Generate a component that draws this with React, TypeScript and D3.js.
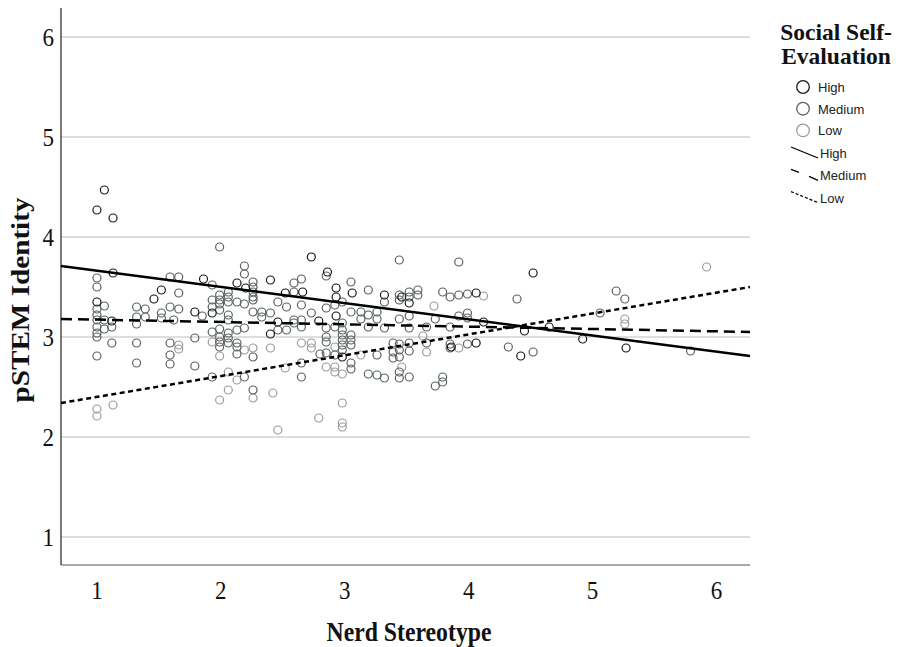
import React from "react";
import * as d3 from "d3";

const xTicks = [1, 2, 3, 4, 5, 6];
const yTicks = [1, 2, 3, 4, 5, 6];
const legendGroups = ["High", "Medium", "Low"];
const groupColors = ["#1a1a1a", "#5a635f", "#9c9c9c"];

// High social self-evaluation: [nerd stereotype, pSTEM identity]
const highPoints: [number, number][] = [
  [1.0, 4.27], [1.06, 4.47], [1.13, 4.19], [1.13, 3.64], [1.0, 3.35],
  [1.12, 3.16], [1.46, 3.38], [1.52, 3.47], [1.79, 3.25], [1.93, 3.24],
  [1.86, 3.58], [2.13, 3.54], [2.2, 3.49], [2.4, 3.57], [2.46, 3.15],
  [2.4, 3.03], [2.52, 3.44], [2.73, 3.8], [2.86, 3.65], [2.66, 3.45],
  [2.93, 3.49], [2.93, 3.4], [3.06, 3.44], [2.93, 3.21], [2.79, 3.16],
  [3.32, 3.42], [2.98, 2.8], [3.52, 3.34], [3.46, 3.4], [3.86, 2.9],
  [4.06, 3.44], [4.06, 2.94], [4.12, 3.15], [4.52, 3.64], [4.45, 3.06],
  [4.65, 3.1], [4.42, 2.81], [4.92, 2.98], [5.27, 2.89],
];

// Medium: [nerd stereotype, pSTEM identity values at that score]
const mediumColumns: [number, number[]][] = [
  [1.0, [3.59, 3.5, 3.28, 3.22, 3.17, 3.1, 3.04, 3.0, 2.81]],
  [1.06, [3.31, 3.17, 3.08]],
  [1.12, [3.1, 2.94]],
  [1.32, [3.3, 3.2, 3.13, 2.94, 2.74]],
  [1.39, [3.28, 3.2]],
  [1.52, [3.24, 3.19]],
  [1.59, [3.6, 3.3, 2.94, 2.82, 2.73]],
  [1.66, [3.6, 3.44, 3.28]],
  [1.62, [3.17]],
  [1.79, [2.99, 2.71]],
  [1.85, [3.21]],
  [1.93, [3.52, 3.37, 3.3, 3.05, 2.6]],
  [1.99, [3.9, 3.42, 3.37, 3.33, 3.27, 3.08, 3.0, 2.95, 2.9]],
  [2.06, [3.45, 3.4, 3.35, 3.22, 3.17, 3.04, 2.99, 2.94]],
  [2.13, [3.35, 3.07, 2.94, 2.9, 2.83]],
  [2.19, [3.71, 3.63, 3.33, 3.09, 2.6]],
  [2.26, [3.55, 3.5, 3.45, 3.4, 3.37, 3.25, 2.8, 2.47]],
  [2.33, [3.25, 3.2]],
  [2.4, [3.24]],
  [2.46, [3.35, 3.07]],
  [2.53, [3.3, 3.07]],
  [2.59, [3.54, 3.45, 3.17, 3.14]],
  [2.65, [3.58, 3.32, 3.17, 3.1, 2.74, 2.6]],
  [2.73, [3.24]],
  [2.8, [2.83]],
  [2.85, [3.61, 3.29, 3.09, 3.0, 2.95, 2.84]],
  [2.92, [3.32, 3.1, 2.82]],
  [2.98, [3.35, 3.14, 3.07, 3.02, 2.97, 2.92, 2.87]],
  [3.05, [3.55, 3.25, 3.02, 2.97, 2.92, 2.74, 2.68]],
  [3.13, [3.25, 3.18]],
  [3.19, [3.47, 3.22, 3.1, 2.63]],
  [3.26, [3.25, 3.18, 2.82, 2.62]],
  [3.32, [3.35, 3.09, 2.59]],
  [3.39, [2.94, 2.85, 2.79]],
  [3.44, [3.77, 3.42, 3.37, 3.18, 2.93, 2.87, 2.8, 2.65, 2.59]],
  [3.52, [3.45, 3.4, 3.21, 3.09, 2.94, 2.86, 2.6]],
  [3.59, [3.47, 3.42]],
  [3.66, [3.1, 2.94]],
  [3.73, [3.18, 2.51]],
  [3.79, [3.45, 2.6, 2.55]],
  [3.85, [3.4, 3.1, 2.93, 2.89]],
  [3.92, [3.75, 3.42, 3.21]],
  [3.99, [3.43, 3.24, 3.19, 2.93]],
  [4.32, [2.9]],
  [4.39, [3.38]],
  [4.52, [2.85]],
  [5.06, [3.24]],
  [5.19, [3.46]],
  [5.26, [3.38]],
  [5.79, [2.86]],
];

// Low
const lowColumns: [number, number[]][] = [
  [1.0, [2.28, 2.21]],
  [1.13, [2.32]],
  [1.66, [2.92, 2.88]],
  [1.93, [2.95]],
  [1.99, [2.81, 2.37]],
  [2.06, [2.65, 2.47]],
  [2.13, [2.57]],
  [2.19, [2.87]],
  [2.26, [2.89, 2.39]],
  [2.4, [2.89]],
  [2.42, [2.44]],
  [2.46, [2.07]],
  [2.52, [2.69]],
  [2.65, [2.94]],
  [2.73, [2.94, 2.89]],
  [2.79, [2.19]],
  [2.85, [2.7]],
  [2.92, [2.9, 2.7, 2.65]],
  [2.98, [2.63, 2.34, 2.14, 2.1]],
  [3.13, [2.82]],
  [3.46, [2.7]],
  [3.63, [3.01]],
  [3.66, [2.85]],
  [3.72, [3.31]],
  [3.92, [2.89]],
  [4.12, [3.41]],
  [5.26, [3.18, 3.13]],
  [5.92, [3.7]],
];

// Simple-slope fit lines (High, Medium, Low)
const fitIntercepts = [3.825, 3.197, 2.192];
const fitSlopes = [-0.162, -0.0234, 0.2086];

const serif = "'Liberation Serif', 'Times New Roman', serif";
const sans = "'Liberation Sans', Arial, sans-serif";

export default function App() {
  const W = 899;
  const H = 647;
  const x = d3.scaleLinear().domain([0.71, 6.27]).range([61, 750]);
  const y = d3.scaleLinear().domain([0.72, 6.29]).range([565, 8]);
  const [x0, x1] = x.domain();

  const flatten = (cols: [number, number[]][]) =>
    cols.flatMap(([xv, ys]) => ys.map((yv) => [xv, yv] as [number, number]));
  const pointSets = [highPoints, flatten(mediumColumns), flatten(lowColumns)];

  const line = d3
    .line<[number, number]>()
    .x((d) => x(d[0]))
    .y((d) => y(d[1]));
  const dashes = [undefined, "11,6", "5,3.5"];

  return (
    <svg
      width={W}
      height={H}
      style={{ position: "absolute", left: 0, top: 0, background: "#fff" }}
    >
      {/* gridlines */}
      {yTicks.map((t) => (
        <line
          key={"g" + t}
          x1={x(x0)}
          x2={x(x1)}
          y1={y(t)}
          y2={y(t)}
          stroke="#bdbdbd"
          strokeWidth={1.2}
        />
      ))}
      {/* axes */}
      <line x1={x(x0)} x2={x(x0)} y1={y.range()[1]} y2={y.range()[0]} stroke="#222" strokeWidth={1.2} />
      <line x1={x(x0)} x2={x(x1)} y1={y.range()[0]} y2={y.range()[0]} stroke="#555" strokeWidth={1.2} />
      {yTicks.map((t) => (
        <text
          key={"yt" + t}
          x={x(x0) - 7}
          y={y(t) + 9}
          textAnchor="end"
          fontFamily={serif}
          fontSize={26}
          textLength={11.5}
          lengthAdjust="spacingAndGlyphs"
          fill="#111"
        >
          {t}
        </text>
      ))}
      {xTicks.map((t) => (
        <text
          key={"xt" + t}
          x={x(t)}
          y={599}
          textAnchor="middle"
          fontFamily={serif}
          fontSize={26}
          textLength={11.5}
          lengthAdjust="spacingAndGlyphs"
          fill="#111"
        >
          {t}
        </text>
      ))}
      <text
        x={409}
        y={641}
        textAnchor="middle"
        fontFamily={serif}
        fontWeight="bold"
        fontSize={27}
        textLength={165}
        lengthAdjust="spacingAndGlyphs"
        fill="#111"
      >
        Nerd Stereotype
      </text>
      <text
        transform={`translate(29,${y(3.37)}) rotate(-90)`}
        textAnchor="middle"
        fontFamily={serif}
        fontWeight="bold"
        fontSize={26}
        textLength={205}
        lengthAdjust="spacingAndGlyphs"
        fill="#111"
      >
        pSTEM Identity
      </text>

      {/* points */}
      {[2, 1, 0].map((g) =>
        pointSets[g].map((d, i) => (
          <circle
            key={g + "-" + i}
            cx={x(d[0])}
            cy={y(d[1])}
            r={4}
            fill="none"
            stroke={groupColors[g]}
            strokeWidth={1.2}
          />
        ))
      )}

      {/* fit lines */}
      {fitIntercepts.map((b, g) => (
        <path
          key={"fit" + g}
          d={line([
            [x0, b + fitSlopes[g] * x0],
            [x1, b + fitSlopes[g] * x1],
          ]) || ""}
          fill="none"
          stroke="#000"
          strokeWidth={2.5}
          strokeDasharray={dashes[g]}
        />
      ))}

      {/* legend */}
      <text x={836} y={40} textAnchor="middle" fontFamily={serif} fontWeight="bold" fontSize={23.5} fill="#111">
        Social Self-
      </text>
      <text x={836} y={64} textAnchor="middle" fontFamily={serif} fontWeight="bold" fontSize={23.5} fill="#111">
        Evaluation
      </text>
      {legendGroups.map((name, i) => (
        <g key={"lc" + i}>
          <circle cx={803} cy={87 + i * 21.7} r={6.3} fill="none" stroke={groupColors[i]} strokeWidth={1.3} />
          <text x={818} y={92 + i * 21.7} fontFamily={sans} fontSize={13} fill="#222">
            {name}
          </text>
        </g>
      ))}
      {legendGroups.map((name, i) => {
        const cy = 153 + i * 22.3;
        return (
          <g key={"ll" + i}>
            {i === 1 ? (
              <>
                <line x1={791} y1={cy - 6} x2={799} y2={cy - 3} stroke="#000" strokeWidth={1.3} />
                <line x1={809} y1={cy + 1} x2={818} y2={cy + 5} stroke="#000" strokeWidth={1.3} />
              </>
            ) : (
              <line
                x1={791}
                y1={cy - 6}
                x2={818}
                y2={cy + 5}
                stroke="#000"
                strokeWidth={1.3}
                strokeDasharray={i === 2 ? "3,2" : undefined}
              />
            )}
            <text x={820} y={cy + 5} fontFamily={sans} fontSize={13} fill="#222">
              {name}
            </text>
          </g>
        );
      })}
    </svg>
  );
}
